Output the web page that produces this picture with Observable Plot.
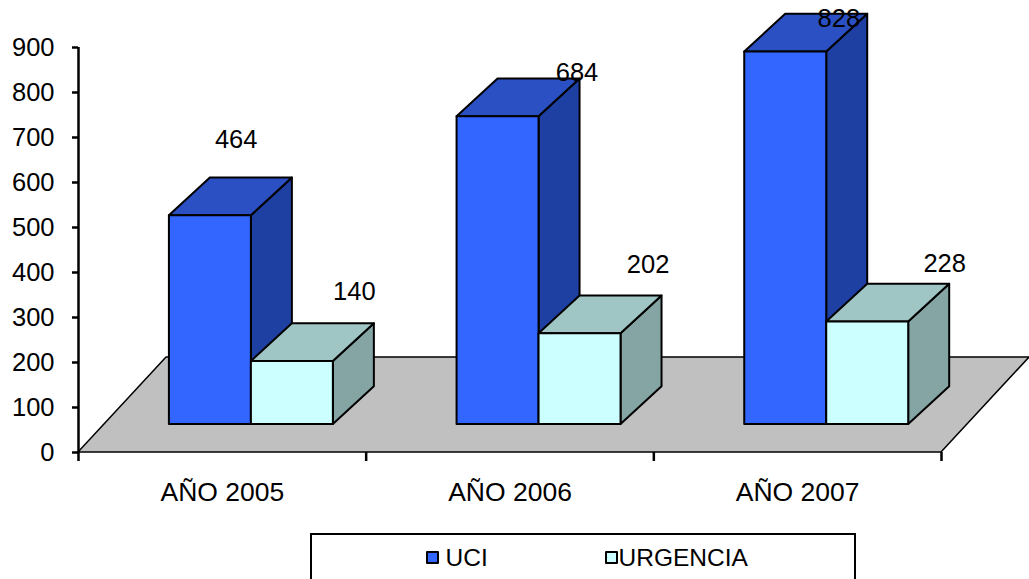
<!DOCTYPE html>
<html>
<head>
<meta charset="utf-8">
<script src="https://cdn.jsdelivr.net/npm/d3@7"></script>
<script src="https://cdn.jsdelivr.net/npm/@observablehq/plot@0.6"></script>
<style>
html,body{margin:0;padding:0;background:#fff;overflow:hidden;width:1029px;height:579px;font-family:"Liberation Sans",Arial,sans-serif;}
#chart svg{display:block;}
#legend{position:absolute;left:310px;top:533px;width:542px;height:60px;border:2.5px solid #000;box-sizing:content-box;background:#fff;}
.sw{position:absolute;top:16px;width:9px;height:9px;border:2.5px solid #000;border-radius:1px;}
.lb{position:absolute;top:10px;font-size:24.5px;line-height:26px;color:#000;}
</style>
</head>
<body>
<div id="chart"></div>
<div id="legend">
  <span class="sw" style="left:113.5px;background:#3366FF"></span><span class="lb" style="left:133.5px">UCI</span>
  <span class="sw" style="left:292.5px;background:#CCFFFF"></span><span class="lb" style="left:306.5px">URGENCIA</span>
</div>
<script>
const categories = ["AÑO 2005", "AÑO 2006", "AÑO 2007"];
const uci = [464, 684, 828];
const urgencia = [140, 202, 228];
const yTicks = [0, 100, 200, 300, 400, 500, 600, 700, 800, 900];

// Projection layout, in scale units
const barStart = 0.316, barWidth = 0.285;
const floorInset = {x: 0.1, y: 62};
const barDepth = {x: 0.1425, y: 84};
const floorDepth = {x: 0.306, y: 211};
// Label nudges relative to each bar's front-top-left corner
const uciNudge = {x: [0.232, 0.417, 0.327], y: [231, 160, 136]};
const urgNudge = {x: [0.358, 0.379, 0.41], y: [218, 216, 192]};

const seriesStyle = [
  {values: uci, front: "#3366FF", top: "#2A50C4", side: "#1F40A3", slot: 0, nudge: uciNudge},
  {values: urgencia, front: "#CCFFFF", top: "#A0C5C5", side: "#85A5A5", slot: 1, nudge: urgNudge}
];

const faces = [];
function face(id, fill, x1a, y1a, x1b, y1b, x2a, y2a, x2b, y2b) {
  faces.push({id, fill, x1: x1a, y1: y1a, x2: x2a, y2: y2a});
  faces.push({id, fill, x1: x1b, y1: y1b, x2: x2b, y2: y2b});
}
const labels = [];
categories.forEach((c, i) => {
  seriesStyle.forEach(s => {
    const v = s.values[i] + floorInset.y;
    const b = floorInset.y;
    const x0 = i + barStart + s.slot * barWidth;
    const x1 = x0 + barWidth;
    const d = barDepth;
    const id = c + s.slot;
    // side face
    face(id + "s", s.side, x1, b, x1, v, x1 + d.x, b + d.y, x1 + d.x, v + d.y);
    // top face
    face(id + "t", s.top, x0, v, x1, v, x0 + d.x, v + d.y, x1 + d.x, v + d.y);
    // front face
    face(id + "f", s.front, x0, b, x1, b, x0, v, x1, v);
    labels.push({
      text: String(s.values[i]),
      x: x0 + s.nudge.x[i],
      y: s.values[i] + s.nudge.y[i]
    });
  });
});

const floor = [
  {x1: 0, y1: 0, x2: floorDepth.x, y2: floorDepth.y},
  {x1: 3, y1: 0, x2: 3 + floorDepth.x, y2: floorDepth.y}
];

const plot = Plot.plot({
  width: 1029,
  height: 533,
  marginLeft: 78,
  marginRight: 88,
  marginTop: 47,
  marginBottom: 81,
  style: {fontFamily: '"Liberation Sans", Arial, sans-serif', fontSize: "25.5px", color: "#000", background: "transparent", overflow: "hidden"},
  x: {type: "linear", domain: [0, 3], label: null},
  y: {type: "linear", domain: [0, 900], label: null},
  color: {type: "identity"},
  marks: [
    Plot.area(floor, {x1: "x1", y1: "y1", x2: "x2", y2: "y2", fill: "#C0C0C0", stroke: "#000", strokeWidth: 1.5}),
    Plot.area(faces, {x1: "x1", y1: "y1", x2: "x2", y2: "y2", z: "id", fill: "fill", stroke: "#000", strokeWidth: 2}),
    Plot.axisY({ticks: yTicks, tickSize: 6, tickPadding: 18, strokeWidth: 2.5, tickFormat: d => String(d), label: null, stroke: "#000", strokeOpacity: 1}),
    Plot.ruleX([0], {y1: 0, y2: 900, stroke: "#000", strokeWidth: 2.5}),
    Plot.axisX({ticks: [0, 1, 2, 3], tickSize: 9, tickFormat: () => "", label: null, strokeWidth: 2.5, stroke: "#000", strokeOpacity: 1}),
    Plot.axisX({ticks: [0.5, 1.5, 2.5], tickSize: 0, tickPadding: 30, fontSize: 26.5, tickFormat: d => categories[Math.floor(d)], label: null}),
    Plot.text(labels, {x: "x", y: "y", text: "text", fill: "#000", fontSize: 25.5})
  ]
});
document.getElementById("chart").appendChild(plot);
</script>
</body>
</html>
